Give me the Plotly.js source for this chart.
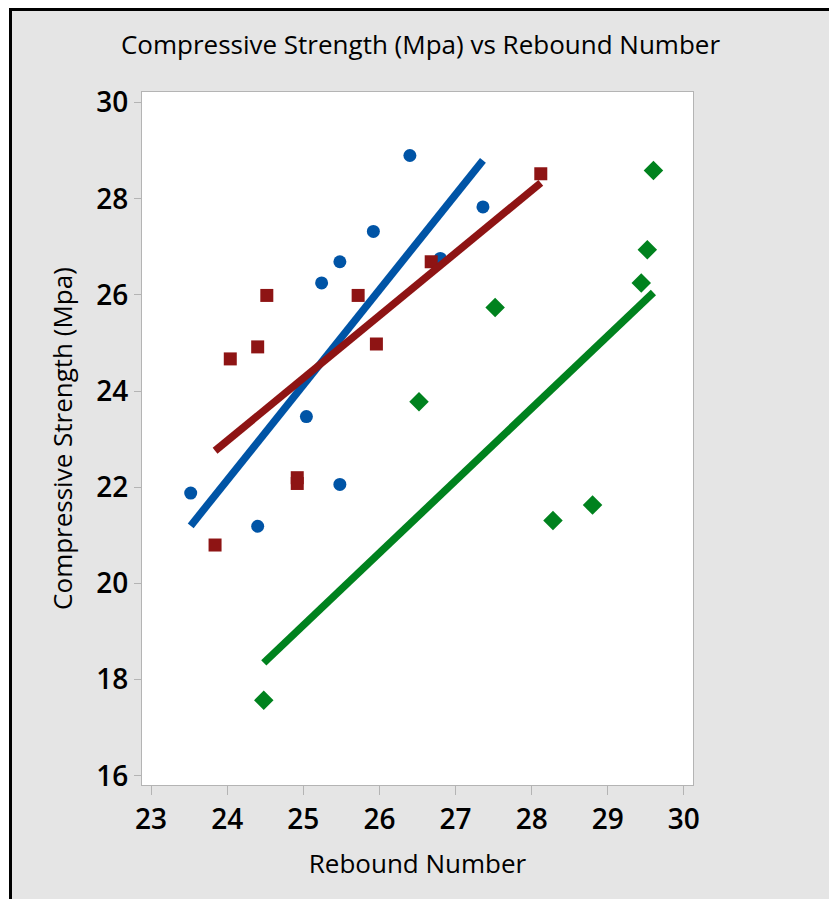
<!DOCTYPE html>
<html>
<head>
<meta charset="utf-8">
<script src="https://cdn.plot.ly/plotly-3.0.1.min.js"></script>
<style>
  html, body { margin: 0; padding: 0; background: #e5e5e5; width: 829px; height: 899px; overflow: hidden; }
  #chart { position: absolute; left: 9px; top: 8px; width: 817px; height: 888px;
           border-left: 3px solid #000; border-top: 3px solid #000; background: #e5e5e5; }
  #topwhite { position: absolute; left: 0; top: 0; width: 829px; height: 8px; background: #fff; }
  #leftwhite { position: absolute; left: 0; top: 0; width: 9px; height: 899px; background: #fff; }
</style>
</head>
<body>
<div id="topwhite"></div>
<div id="leftwhite"></div>
<div id="chart"></div>
<script>
// Series 1 (blue circles)
const blueX = [23.52, 24.40, 25.04, 25.24, 25.48, 25.48, 25.92, 26.40, 26.80, 27.36];
const blueY = [21.88, 21.19, 23.47, 26.25, 26.69, 22.06, 27.32, 28.90, 26.76, 27.83];
// Series 2 (red squares)
const redX = [23.84, 24.04, 24.40, 24.52, 24.92, 24.92, 25.72, 25.96, 26.68, 28.12];
const redY = [20.80, 24.67, 24.92, 25.99, 22.20, 22.08, 25.99, 24.98, 26.69, 28.52];
// Series 3 (green diamonds)
const greenX = [24.48, 26.52, 27.52, 28.28, 28.80, 29.44, 29.52, 29.60];
const greenY = [17.57, 23.78, 25.74, 21.31, 21.63, 26.25, 26.94, 28.59];

// Fitted lines (end points)
const blueFitX = [23.52, 27.36];
const blueFitY = [21.20, 28.80];
const redFitX = [23.84, 28.12];
const redFitY = [22.76, 28.33];
const greenFitX = [24.48, 29.60];
const greenFitY = [18.35, 26.05];

const xTicks = [23, 24, 25, 26, 27, 28, 29, 30];
const yTicks = [16, 18, 20, 22, 24, 26, 28, 30];

const chartTitle = 'Compressive Strength (Mpa) vs Rebound Number';
const xTitle = 'Rebound Number';
const yTitle = 'Compressive Strength (Mpa)';

const BLUE = '#0054a6', RED = '#8e1414', GREEN = '#00821e';

const traces = [
  { x: blueX, y: blueY, mode: 'markers', type: 'scatter', marker: { symbol: 'circle', size: 13, color: BLUE } },
  { x: blueFitX, y: blueFitY, mode: 'lines', type: 'scatter', line: { color: BLUE, width: 7.5 } },
  { x: redX, y: redY, mode: 'markers', type: 'scatter', marker: { symbol: 'square', size: 13, color: RED } },
  { x: redFitX, y: redFitY, mode: 'lines', type: 'scatter', line: { color: RED, width: 7.5 } },
  { x: greenX, y: greenY, mode: 'markers', type: 'scatter', marker: { symbol: 'diamond', size: 15, color: GREEN } },
  { x: greenFitX, y: greenFitY, mode: 'lines', type: 'scatter', line: { color: GREEN, width: 7.5 } }
];

const FONT = 'Open Sans, Noto Sans, sans-serif';
const layout = {
  width: 817, height: 888,
  margin: { l: 130, r: 136, t: 81, b: 114 },
  paper_bgcolor: '#e5e5e5',
  plot_bgcolor: '#ffffff',
  showlegend: false,
  font: { family: FONT, color: '#000' },
  title: { text: chartTitle, font: { family: FONT, size: 26, color: '#000', weight: 500 },
           x: 0.5, xref: 'container', xanchor: 'center', y: 1 - 34 / 888, yref: 'container', yanchor: 'middle' },
  xaxis: {
    range: [22.88, 30.12], tickvals: xTicks, ticktext: xTicks.map(String),
    showgrid: false, zeroline: false, showline: true, mirror: true, linecolor: '#b4b4b4', linewidth: 1,
    ticks: 'outside', ticklen: 9, tickcolor: '#b4b4b4', tickwidth: 1,
    tickfont: { family: FONT, size: 28, color: '#000', weight: 600 },
    title: { text: xTitle, font: { family: FONT, size: 26, color: '#000', weight: 500 }, standoff: 19 }
  },
  yaxis: {
    range: [15.81, 30.22], tickvals: yTicks, ticktext: yTicks.map(String),
    showgrid: false, zeroline: false, showline: true, mirror: true, linecolor: '#b4b4b4', linewidth: 1,
    ticks: 'outside', ticklen: 7, tickcolor: '#b4b4b4', tickwidth: 1,
    tickfont: { family: FONT, size: 28, color: '#000', weight: 600 },
    title: { text: yTitle, font: { family: FONT, size: 26, color: '#000', weight: 500 }, standoff: 16 }
  }
};

Plotly.newPlot('chart', traces, layout, { staticPlot: true, displayModeBar: false });
</script>
</body>
</html>
